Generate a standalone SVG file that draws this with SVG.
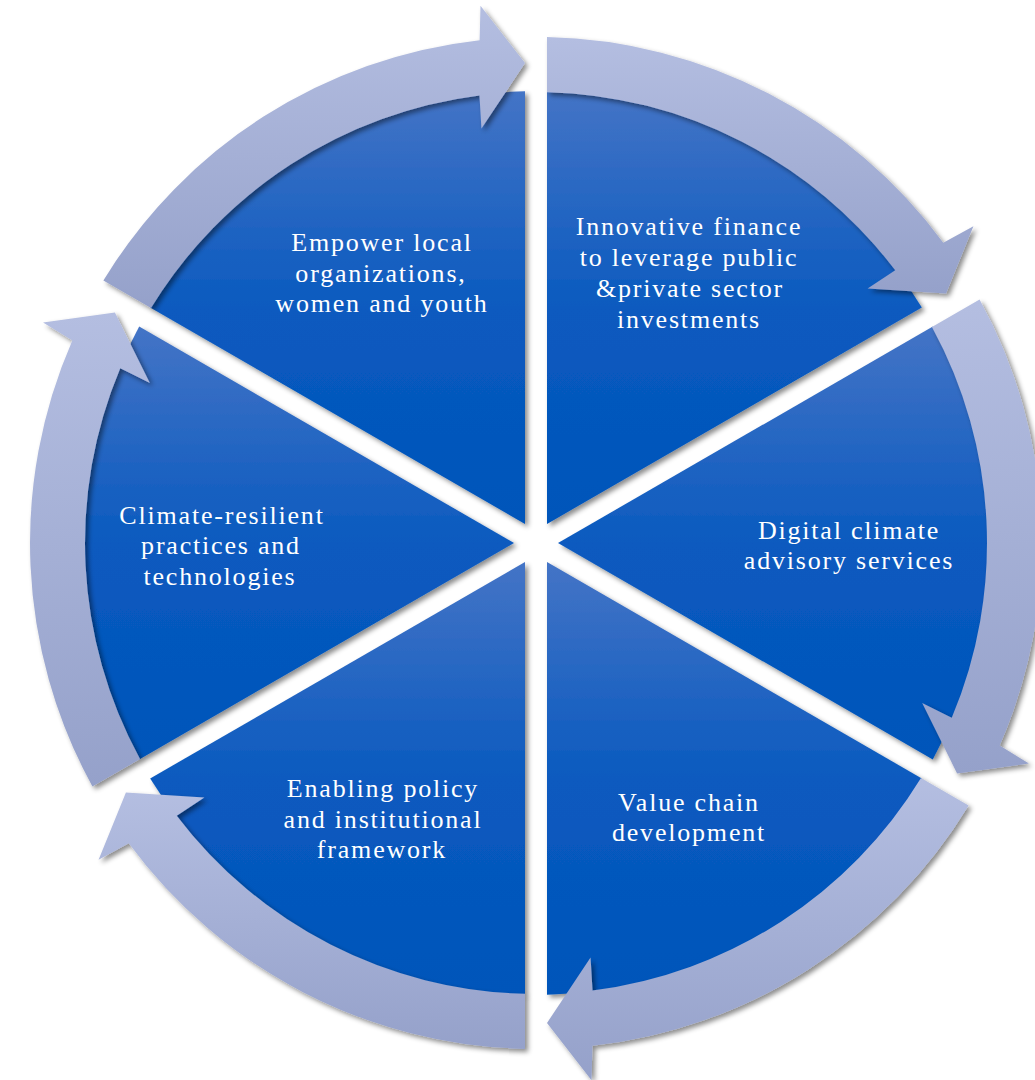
<svg xmlns="http://www.w3.org/2000/svg" width="1035" height="1080" viewBox="0 0 1035 1080">
<defs>
<linearGradient id="gW" x1="0" y1="0" x2="0" y2="1">
<stop offset="0" stop-color="#4474C6"/>
<stop offset="0.5" stop-color="#0A5ABF"/>
<stop offset="1" stop-color="#0055BA"/>
</linearGradient>
<linearGradient id="gA" x1="0" y1="0" x2="0" y2="1">
<stop offset="0" stop-color="#B4BEE1"/>
<stop offset="1" stop-color="#95A1CA"/>
</linearGradient>
<filter id="sh" x="-10%" y="-10%" width="125%" height="125%">
<feDropShadow dx="3" dy="3" stdDeviation="2.5" flood-color="#000" flood-opacity="0.45"/>
</filter>
<style>
.w{fill:url(#gW);filter:url(#sh);}
.a{fill:url(#gA);filter:url(#sh);}
.t{font-family:"Liberation Serif","Times New Roman",serif;font-size:26px;letter-spacing:1.8px;fill:#FFFFFF;text-anchor:middle;}
</style>
</defs>
<rect width="1035" height="1080" fill="#FFFFFF"/>
<g id="node-1">
<path class="w" d="M547,523.95 L547,91.13 A452,452 0 0 1 921.82,307.54 Z"/>
<text class="t"><tspan x="689" y="235">Innovative finance</tspan><tspan x="689" y="266">to leverage public</tspan><tspan x="690" y="297">&amp;private sector</tspan><tspan x="689" y="328">investments</tspan></text>
</g>
<g id="node-2">
<path class="w" d="M558,543 L932.82,326.60 A452,452 0 0 1 932.82,759.40 Z"/>
<text class="t"><tspan x="849" y="539">Digital climate</tspan><tspan x="849" y="569">advisory services</tspan></text>
</g>
<g id="node-3">
<path class="w" d="M547,562.05 L921.82,778.46 A452,452 0 0 1 547,994.87 Z"/>
<text class="t"><tspan x="689" y="811">Value chain</tspan><tspan x="689" y="841">development</tspan></text>
</g>
<g id="node-4">
<path class="w" d="M525,562.05 L525,994.87 A452,452 0 0 1 150.18,778.46 Z"/>
<text class="t"><tspan x="383" y="797">Enabling policy</tspan><tspan x="383" y="828">and institutional</tspan><tspan x="382" y="858">framework</tspan></text>
</g>
<g id="node-5">
<path class="w" d="M514,543 L139.18,759.40 A452,452 0 0 1 139.18,326.60 Z"/>
<text class="t"><tspan x="222" y="524">Climate-resilient</tspan><tspan x="221" y="554">practices and</tspan><tspan x="220" y="585">technologies</tspan></text>
</g>
<g id="node-6">
<path class="w" d="M525,523.95 L150.18,307.54 A452,452 0 0 1 525,91.13 Z"/>
<text class="t"><tspan x="382" y="251">Empower local</tspan><tspan x="381" y="282">organizations,</tspan><tspan x="382" y="312">women and youth</tspan></text>
</g>
<g id="connectors">
<path id="arrow-1" class="a" d="M547,37.12 A506,506 0 0 1 943.27,242.73 L973.42,226.36 L946.08,293.53 L867.62,288.54 L895.24,270.33 A451,451 0 0 0 547,92.13 Z"/>
<path id="arrow-2" class="a" d="M979.60,299.59 A506,506 0 0 1 999.68,745.57 L1028.93,763.50 L957.09,773.40 L922.18,702.96 L951.76,717.77 A451,451 0 0 0 931.96,327.09 Z"/>
<path id="arrow-3" class="a" d="M968.61,805.47 A506,506 0 0 1 592.40,1045.85 L591.51,1080.14 L547.01,1022.88 L590.56,957.42 L592.52,990.45 A451,451 0 0 0 920.97,777.96 Z"/>
<path id="arrow-4" class="a" d="M525,1048.88 A506,506 0 0 1 128.73,843.27 L98.58,859.64 L125.92,792.47 L204.38,797.46 L176.76,815.67 A451,451 0 0 0 525,993.87 Z"/>
<path id="arrow-5" class="a" d="M92.40,786.41 A506,506 0 0 1 72.32,340.43 L43.07,322.50 L114.91,312.60 L149.82,383.04 L120.24,368.23 A451,451 0 0 0 140.04,758.91 Z"/>
<path id="arrow-6" class="a" d="M103.39,280.53 A506,506 0 0 1 479.60,40.15 L480.49,5.86 L524.99,63.12 L481.44,128.58 L479.48,95.55 A451,451 0 0 0 151.03,308.04 Z"/>
</g>
</svg>
